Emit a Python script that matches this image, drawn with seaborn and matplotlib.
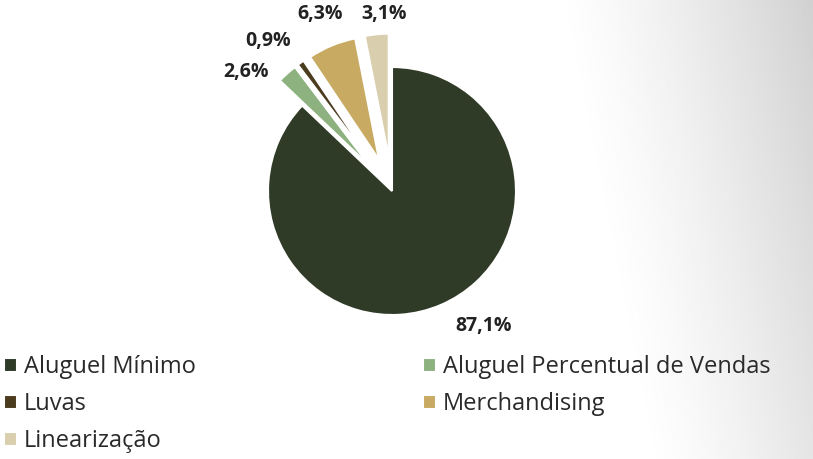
import numpy as np
import matplotlib
matplotlib.use("Agg")
import matplotlib.pyplot as plt
import seaborn as sns

categorias = ["Aluguel Mínimo", "Aluguel Percentual de Vendas", "Luvas",
              "Merchandising", "Linearização"]
valores = [87.1, 2.6, 0.9, 6.3, 3.1]
cores = ["#2f3b27", "#8db27f", "#4b3b1f", "#c9aa62", "#d9cfae"]
afastamento = [0.0, 0.27, 0.27, 0.27, 0.27]

# posição dos rótulos: distância do centro (em raios) e desvio angular (graus)
dist_rotulo = [1.32, 1.52, 1.57, 1.54, 1.43]
desvio_rotulo = [11, 9, 4, -0.5, -3]

sns.set_theme(style="white")
plt.rcParams['font.family'] = ['Open Sans', 'DejaVu Sans']

fig = plt.figure(figsize=(8.13, 4.59), dpi=100)

# fundo em degradê (branco -> cinza claro no canto superior direito)
bg = fig.add_axes([0, 0, 1, 1], zorder=0)
xx, yy = np.meshgrid(np.linspace(0, 1, 400), np.linspace(0, 1, 200))
d = np.clip((xx - 0.68) / 0.32 - 0.35 * yy, 0, 1)
g = 1 - 0.18 * d ** 1.3
bg.imshow(g, cmap="gray", vmin=0, vmax=1, aspect="auto",
          extent=[0, 1, 0, 1])
bg.axis("off")

ax = fig.add_axes([0, 0, 1, 1], zorder=1)
ax.patch.set_alpha(0)

wedges, textos, autotextos = ax.pie(
    valores, colors=cores, explode=afastamento, startangle=90,
    counterclock=False, autopct=lambda p: f"{p:.1f}%".replace(".", ","),
    wedgeprops=dict(edgecolor="white", linewidth=1.5),
    textprops=dict(fontsize=14, fontweight="bold", color="#222222"))

for w, t, dr, da in zip(wedges, autotextos, dist_rotulo, desvio_rotulo):
    ang = np.deg2rad((w.theta1 + w.theta2) / 2 + da)
    t.set_position((dr * np.cos(ang), dr * np.sin(ang)))

ax.set_xlim(-392 / 124, (813 - 392) / 124)
ax.set_ylim(-268 / 124, 191 / 124)
ax.axis("off")

ordem = [0, 2, 4, 1, 3]
leg = fig.legend([wedges[i] for i in ordem], [categorias[i] for i in ordem],
                 ncol=2, loc="upper left", bbox_to_anchor=(-0.021, 0.272),
                 frameon=False, handlelength=0.55, handleheight=0.55,
                 handletextpad=0.3, columnspacing=9.6, labelspacing=0.55,
                 prop=dict(size=17))
for t in leg.get_texts():
    t.set_color("#2a2a2a")

fig.savefig("out.png", dpi=100)
